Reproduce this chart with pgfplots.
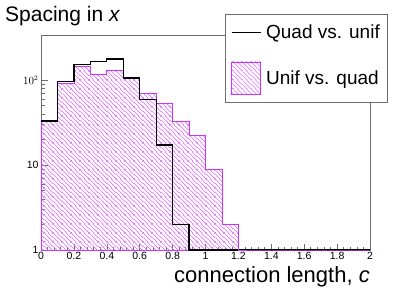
\documentclass[border=0pt]{standalone}
\usepackage{pgfplots}
\pgfplotsset{compat=1.18}
\usetikzlibrary{patterns}
\usepackage{fontspec}
\setmainfont{Liberation Sans}
\definecolor{rmag}{RGB}{204,51,255}
\definecolor{hmag}{RGB}{218,110,255}
\definecolor{frm}{RGB}{110,110,110}
\pgfdeclarepatterninherentlycolored{maghatch}{\pgfpointorigin}{\pgfqpoint{9pt}{9pt}}{\pgfqpoint{9pt}{9pt}}{%
  \pgfsetcolor{hmag}\pgfsetlinewidth{0.6pt}%
  \pgfpathmoveto{\pgfqpoint{-1pt}{10pt}}\pgfpathlineto{\pgfqpoint{10pt}{-1pt}}%
  \pgfpathmoveto{\pgfqpoint{-1pt}{5.5pt}}\pgfpathlineto{\pgfqpoint{5.5pt}{-1pt}}%
  \pgfpathmoveto{\pgfqpoint{3.5pt}{10pt}}\pgfpathlineto{\pgfqpoint{10pt}{3.5pt}}%
  \pgfpathmoveto{\pgfqpoint{-1pt}{1pt}}\pgfpathlineto{\pgfqpoint{1pt}{-1pt}}%
  \pgfpathmoveto{\pgfqpoint{8pt}{10pt}}\pgfpathlineto{\pgfqpoint{10pt}{8pt}}%
  \pgfusepath{stroke}}
\begin{document}
\begin{tikzpicture}
\useasboundingbox (-41pt,-45pt) rectangle (370pt,250pt);
\begin{axis}[
  at={(0,0)}, anchor=south west,
  scale only axis, width=329pt, height=215pt,
  ymode=log, xmin=0, xmax=2, ymin=1, ymax=340,
  axis line style={frm, line width=0.8pt},
  tick style={frm, line width=0.6pt},
  tick align=inside,
  xtick pos=bottom, ytick pos=left,
  xtick={0,0.2,...,2.01},
  xticklabels={0,0.2,0.4,0.6,0.8,1,1.2,1.4,1.6,1.8,2},
  minor x tick num=4,
  major tick length=6.5pt, minor tick length=3.5pt,
  ytick={1,10,100}, yticklabels={1,10,$10^2$},
  ticklabel style={font=\fontsize{10.5}{12}\selectfont},
  /pgf/number format/assume math mode=true,
  xticklabel style={yshift=1pt},
  yticklabel style={xshift=1pt},
  legend style={at={(0.559,1.098)}, anchor=north west, draw=frm, line width=0.8pt,
    font=\fontsize{19}{22}\selectfont, row sep=20pt, inner xsep=6pt, inner ysep=8pt,
    cells={anchor=west}},
  legend cell align=left,
]
\addplot[const plot mark left, black, line width=1.3pt,
  legend image code/.code={\draw[black, line width=0.8pt] (0pt,0pt) -- (29pt,0pt);}]
coordinates {
(0.0,33) (0.1,96) (0.2,154) (0.3,167) (0.4,177) (0.5,106) (0.6,59) (0.7,17.2) (0.8,2) (0.9,1)
(1.0,1) (1.1,1) (1.2,1) (1.3,1) (1.4,1) (1.5,1) (1.6,1) (1.7,1) (1.8,1) (1.9,1) (2.0,1)
};
\addlegendentry{\hspace{3pt}Quad vs. unif}
\addplot[const plot mark left, draw=rmag, line width=0.8pt, pattern=maghatch,
  legend image code/.code={\draw[draw=rmag, line width=0.8pt, pattern=maghatch] (0pt,-16pt) rectangle (29pt,16pt);}]
coordinates {
(0.0,33) (0.1,91) (0.2,146) (0.3,118) (0.4,131) (0.5,109) (0.6,69) (0.7,53) (0.8,33) (0.9,22.5)
(1.0,9) (1.1,2) (1.2,1) (1.3,1) (1.4,1) (1.5,1) (1.6,1) (1.7,1) (1.8,1) (1.9,1) (2.0,1)
} \closedcycle;
\addlegendentry{\hspace{3pt}Unif vs. quad}
\addplot[const plot mark left, black, line width=1.3pt, forget plot]
coordinates {
(0.0,33) (0.1,96) (0.2,154) (0.3,167) (0.4,177) (0.5,106) (0.6,59) (0.7,17.2) (0.8,2) (0.9,1)
(1.0,1) (1.1,1) (1.2,1)
};
\end{axis}
\node[anchor=base west, inner sep=0pt, font=\fontsize{21}{24}\selectfont] at (-36pt,228pt) {Spacing in \textit{x}};
\node[anchor=base east, inner sep=0pt, font=\fontsize{22}{26}\selectfont] at (329pt,-32pt) {connection length, \textit{c}};
\end{tikzpicture}
\end{document}
